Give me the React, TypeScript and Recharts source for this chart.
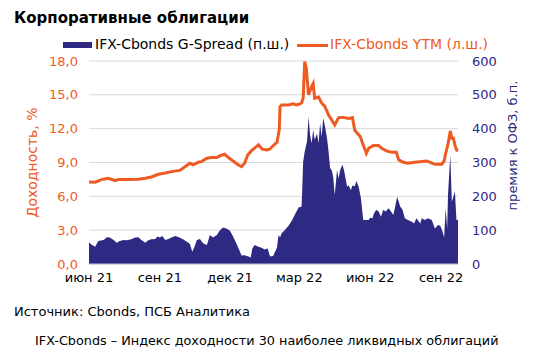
import React from 'react';
import { ComposedChart, Area, Line, XAxis, YAxis, CartesianGrid } from 'recharts';

// days since 1 Jun 2021
const ytmDays = [0, 8, 16, 25, 34, 38, 51, 64, 73, 81, 90, 99, 107, 118, 125, 131, 135, 142, 146, 153, 159, 166, 170, 176, 181, 187, 194, 198, 202, 206, 211, 220, 225, 231, 235, 237, 244, 247, 248, 250, 259, 265, 269, 274, 276, 278, 280, 282, 285, 289, 291, 293, 298, 302, 306, 311, 315, 319, 324, 330, 337, 342, 345, 352, 356, 360, 363, 369, 376, 380, 386, 393, 399, 402, 408, 414, 423, 432, 438, 443, 449, 458, 461, 463, 466, 469, 471, 473, 475, 477, 479];
const ytmValues = [7.28, 7.25, 7.48, 7.6, 7.4, 7.5, 7.5, 7.52, 7.6, 7.72, 7.96, 8.07, 8.19, 8.3, 8.64, 8.93, 8.8, 9.02, 9.08, 9.38, 9.44, 9.44, 9.6, 9.73, 9.44, 9.14, 8.78, 8.64, 8.93, 9.67, 10.05, 10.56, 10.18, 10.12, 10.2, 10.35, 10.8, 11.9, 13.96, 14.1, 14.1, 14.2, 14.1, 14.2, 14.3, 14.7, 17.95, 17.4, 15.0, 15.73, 16.0, 14.7, 14.8, 14.26, 14.0, 13.2, 12.78, 12.33, 12.98, 13.0, 12.9, 12.98, 11.85, 11.3, 10.56, 9.82, 10.26, 10.5, 10.5, 10.26, 10.03, 9.9, 9.9, 9.23, 9.02, 8.93, 9.02, 9.08, 9.14, 9.02, 8.84, 8.84, 9.14, 9.82, 10.62, 11.8, 11.15, 11.15, 10.56, 10.12, 10.03];

const spreadDays = [0, 3, 8, 12, 19, 23, 27, 32, 36, 40, 45, 49, 55, 60, 64, 68, 73, 77, 81, 86, 89, 92, 95, 99, 103, 107, 112, 116, 122, 127, 131, 134, 137, 140, 144, 148, 153, 155, 157, 161, 166, 170, 174, 179, 183, 187, 192, 196, 198, 202, 207, 210, 212, 215, 220, 224, 228, 232, 235, 239, 244, 246, 248, 250, 254, 259, 263, 267, 272, 276, 278, 280, 283, 285, 287, 289, 291, 293, 296, 298, 300, 302, 304, 306, 309, 311, 313, 315, 317, 319, 322, 324, 326, 329, 331, 335, 337, 340, 342, 345, 347, 350, 353, 356, 358, 363, 365, 368, 370, 373, 376, 379, 382, 385, 389, 392, 395, 397, 400, 404, 407, 410, 414, 419, 422, 425, 430, 432, 436, 440, 445, 449, 453, 456, 459, 461, 463, 465, 466, 469, 471, 473, 475, 477, 479];
const spreadValues = [64, 58, 51, 68, 71, 79, 78, 71, 63, 68, 71, 70, 73, 78, 79, 71, 63, 70, 73, 74, 81, 78, 83, 71, 74, 78, 83, 80, 73, 66, 59, 36, 51, 71, 74, 61, 56, 71, 86, 78, 86, 100, 108, 104, 98, 81, 58, 36, 25, 26, 22, 19, 46, 56, 51, 48, 43, 46, 22, 24, 48, 86, 78, 91, 100, 113, 127, 145, 167, 170, 302, 332, 362, 435, 381, 357, 396, 367, 386, 357, 416, 376, 431, 411, 372, 332, 283, 278, 258, 204, 278, 253, 278, 293, 278, 229, 232, 219, 232, 230, 245, 229, 194, 130, 130, 130, 137, 135, 150, 160, 155, 140, 160, 155, 165, 155, 145, 165, 199, 170, 160, 135, 130, 125, 120, 135, 120, 135, 130, 135, 130, 105, 115, 113, 95, 78, 165, 105, 204, 322, 184, 199, 214, 130, 130];

const tickDays = [0, 92, 183, 273, 365, 457];
const tickLabels = ['июн 21', 'сен 21', 'дек 21', 'мар 22', 'июн 22', 'сен 22'];
const leftTicks = [0, 3, 6, 9, 12, 15, 18];
const rightTicks = [0, 100, 200, 300, 400, 500, 600];

const ytmData = ytmDays.map((d, i) => ({ d, ytm: ytmValues[i] }));
const spreadData = spreadDays.map((d, i) => ({ d, spread: spreadValues[i] }));

const ORANGE = '#EE5A22';
const NAVY = '#2E2A84';
const FONT = '"DejaVu Sans", Verdana, sans-serif';

export default function App() {
  return (
    <div style={{ position: 'absolute', left: 0, top: 0, width: 535, height: 356, background: '#fff', fontFamily: FONT }}>
      <div style={{ position: 'absolute', left: 14, top: 9, fontSize: 15, fontWeight: 'bold', color: '#000', whiteSpace: 'nowrap' }}>
        Корпоративные облигации
      </div>
      <div style={{ position: 'absolute', left: 63, top: 42, width: 29, height: 6, background: NAVY }} />
      <div style={{ position: 'absolute', left: 95, top: 36, fontSize: 14, color: '#000', whiteSpace: 'nowrap' }}>
        IFX-Cbonds G-Spread (п.ш.)
      </div>
      <div style={{ position: 'absolute', left: 297, top: 44, width: 31, height: 3, background: ORANGE }} />
      <div style={{ position: 'absolute', left: 330, top: 36, fontSize: 14, color: ORANGE, whiteSpace: 'nowrap' }}>
        IFX-Cbonds YTM (л.ш.)
      </div>
      <div style={{ position: 'absolute', left: 0, top: 0 }}>
        <ComposedChart width={535} height={356} margin={{ top: 61, left: 29, right: 17, bottom: 62 }}>
          <CartesianGrid vertical={false} stroke="#D9D9D9" yAxisId="left" />
          <XAxis
            dataKey="d"
            type="number"
            domain={[0, 479]}
            ticks={tickDays}
            tickFormatter={(v: number) => tickLabels[tickDays.indexOf(v)] ?? ''}
            allowDuplicatedCategory={false}
            axisLine={{ stroke: '#BFBFD0' }}
            tickLine={false}
            tickSize={6}
            tickMargin={3}
            height={30}
            tick={{ fill: '#000', fontSize: 13, fontFamily: FONT }}
            interval={0}
          />
          <YAxis
            yAxisId="left"
            orientation="left"
            domain={[0, 18]}
            ticks={leftTicks}
            width={60}
            axisLine={false}
            tickLine={false}
            tickSize={6}
            tickMargin={5}
            tickFormatter={(v: number) => v.toFixed(1).replace('.', ',')}
            tick={{ fill: ORANGE, fontSize: 13, fontFamily: FONT }}
            label={{ value: 'Доходность, %', angle: -90, position: 'insideLeft', dx: -2, fill: ORANGE, fontSize: 14, fontFamily: FONT, style: { textAnchor: 'middle' } }}
          />
          <YAxis
            yAxisId="right"
            orientation="right"
            domain={[0, 600]}
            ticks={rightTicks}
            width={60}
            axisLine={false}
            tickLine={false}
            tickSize={6}
            tickMargin={8}
            tick={{ fill: NAVY, fontSize: 13, fontFamily: FONT }}
            label={{ value: 'премия к ОФЗ, б.п.', angle: -90, position: 'insideRight', dx: -1, dy: -17, fill: NAVY, fontSize: 13, fontFamily: FONT, style: { textAnchor: 'middle' } }}
          />
          <Area
            yAxisId="right"
            data={spreadData}
            dataKey="spread"
            type="linear"
            stroke="none"
            fill={NAVY}
            fillOpacity={1}
            isAnimationActive={false}
            dot={false}
            activeDot={false}
          />
          <Line
            yAxisId="left"
            data={ytmData}
            dataKey="ytm"
            type="linear"
            stroke={ORANGE}
            strokeWidth={3}
            dot={false}
            activeDot={false}
            isAnimationActive={false}
          />
        </ComposedChart>
      </div>
      <div style={{ position: 'absolute', left: 14, top: 304, fontSize: 13, color: '#000', whiteSpace: 'nowrap' }}>
        Источник: Cbonds, ПСБ Аналитика
      </div>
      <div style={{ position: 'absolute', left: 35, top: 333, fontSize: 12.8, color: '#000', whiteSpace: 'nowrap' }}>
        IFX-Cbonds – Индекс доходности 30 наиболее ликвидных облигаций
      </div>
    </div>
  );
}
